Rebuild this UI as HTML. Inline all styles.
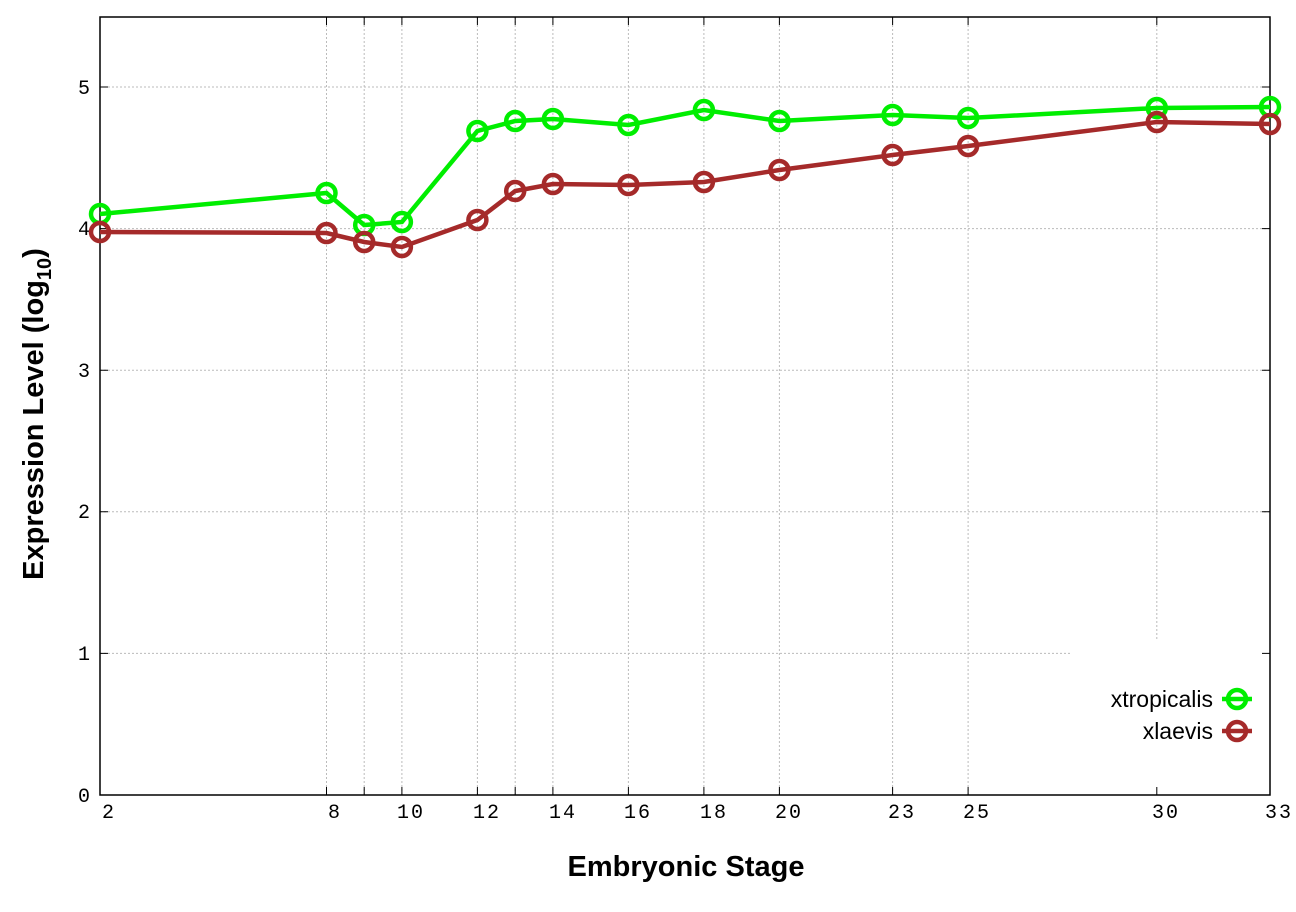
<!DOCTYPE html>
<html><head><meta charset="utf-8"><style>body{margin:0;background:#fff}</style></head><body>
<svg width="1296" height="907" xmlns="http://www.w3.org/2000/svg">
<rect width="1296" height="907" fill="#fff"/>
<g stroke="#bbb" stroke-width="1" stroke-dasharray="2,2" fill="none">
<path d="M100 87H1270M100 228.6H1270M100 370.2H1270M100 511.8H1270M100 653.4H1072"/>
<path d="M326.5 17V795M364.2 17V795M401.9 17V795M477.4 17V795M515.2 17V795M552.9 17V795M628.4 17V795M703.9 17V795M779.4 17V795M892.6 17V795M968.1 17V795M1156.8 17V640"/>
</g>
<rect x="100" y="17" width="1170" height="778" fill="none" stroke="#000" stroke-width="1.5"/>
<g stroke="#000" stroke-width="1">
<path d="M100 87h8M100 228.6h8M100 370.2h8M100 511.8h8M100 653.4h8M1270 87h-8M1270 228.6h-8M1270 370.2h-8M1270 511.8h-8M1270 653.4h-8"/>
<path d="M326.5 795v-8M364.2 795v-8M401.9 795v-8M477.4 795v-8M515.2 795v-8M552.9 795v-8M628.4 795v-8M703.9 795v-8M779.4 795v-8M892.6 795v-8M968.1 795v-8M1156.8 795v-8M326.5 17v8M364.2 17v8M401.9 17v8M477.4 17v8M515.2 17v8M552.9 17v8M628.4 17v8M703.9 17v8M779.4 17v8M892.6 17v8M968.1 17v8M1156.8 17v8"/>
</g>
<g font-family="Liberation Mono, monospace" font-size="20" fill="#000">
<g text-anchor="end"><text x="90" y="802">0</text><text x="90" y="660">1</text><text x="90" y="518">2</text><text x="90" y="377">3</text><text x="90" y="235">4</text><text x="90" y="94">5</text></g>
<g text-anchor="middle" letter-spacing="2"><text x="109" y="818">2</text><text x="335" y="818">8</text><text x="411" y="818">10</text><text x="487" y="818">12</text><text x="563" y="818">14</text><text x="638" y="818">16</text><text x="714" y="818">18</text><text x="789" y="818">20</text><text x="902" y="818">23</text><text x="977" y="818">25</text><text x="1166" y="818">30</text><text x="1279" y="818">33</text></g>
</g>
<text x="686" y="876" text-anchor="middle" font-family="Liberation Sans, sans-serif" font-weight="bold" font-size="29">Embryonic Stage</text>
<text transform="translate(43,414) rotate(-90)" text-anchor="middle" font-family="Liberation Sans, sans-serif" font-weight="bold" font-size="29">Expression Level (log<tspan font-size="20" dy="8">10</tspan><tspan dy="-8">)</tspan></text>
<g fill="none" stroke-width="4.5">
<polyline stroke="#00ee00" points="100,214 326.5,193 364.2,225 401.9,222 477.4,131 515.2,121 552.9,119 628.4,125 703.9,110 779.4,121 892.6,115 968.1,118 1156.8,108 1270,107"/>
<g stroke="#00ee00"><circle cx="100" cy="214" r="9"/><circle cx="326.5" cy="193" r="9"/><circle cx="364.2" cy="225" r="9"/><circle cx="401.9" cy="222" r="9"/><circle cx="477.4" cy="131" r="9"/><circle cx="515.2" cy="121" r="9"/><circle cx="552.9" cy="119" r="9"/><circle cx="628.4" cy="125" r="9"/><circle cx="703.9" cy="110" r="9"/><circle cx="779.4" cy="121" r="9"/><circle cx="892.6" cy="115" r="9"/><circle cx="968.1" cy="118" r="9"/><circle cx="1156.8" cy="108" r="9"/><circle cx="1270" cy="107" r="9"/></g>
<polyline stroke="#a52a2a" points="100,232 326.5,233 364.2,242 401.9,247 477.4,220 515.2,191 552.9,184 628.4,185 703.9,182 779.4,170 892.6,155 968.1,146 1156.8,122 1270,124"/>
<g stroke="#a52a2a"><circle cx="100" cy="232" r="9"/><circle cx="326.5" cy="233" r="9"/><circle cx="364.2" cy="242" r="9"/><circle cx="401.9" cy="247" r="9"/><circle cx="477.4" cy="220" r="9"/><circle cx="515.2" cy="191" r="9"/><circle cx="552.9" cy="184" r="9"/><circle cx="628.4" cy="185" r="9"/><circle cx="703.9" cy="182" r="9"/><circle cx="779.4" cy="170" r="9"/><circle cx="892.6" cy="155" r="9"/><circle cx="968.1" cy="146" r="9"/><circle cx="1156.8" cy="122" r="9"/><circle cx="1270" cy="124" r="9"/></g>
<path stroke="#00ee00" d="M1222 699h30"/><circle stroke="#00ee00" cx="1237" cy="699" r="9"/>
<path stroke="#a52a2a" d="M1222 731h30"/><circle stroke="#a52a2a" cx="1237" cy="731" r="9"/>
</g>
<g font-family="Liberation Sans, sans-serif" font-size="23" text-anchor="end"><text x="1213" y="707">xtropicalis</text><text x="1213" y="739">xlaevis</text></g>
</svg>
</body></html>
